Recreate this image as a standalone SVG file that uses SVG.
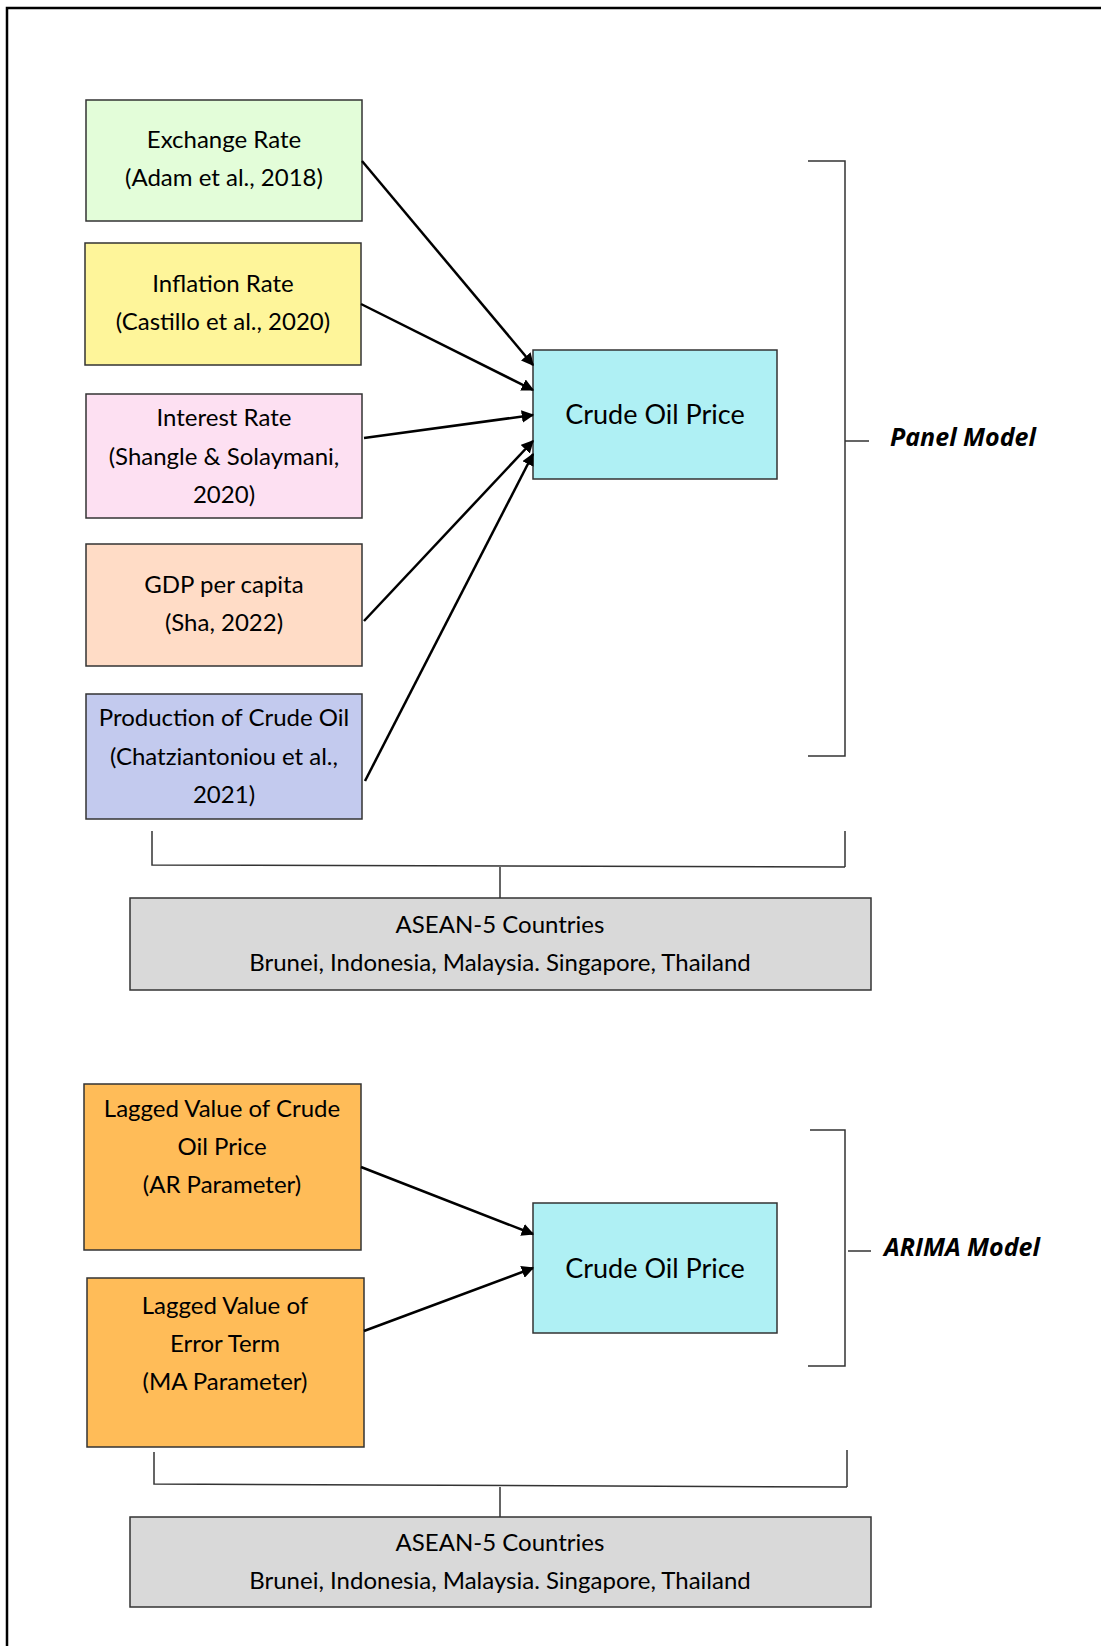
<svg xmlns="http://www.w3.org/2000/svg" width="1101" height="1646" viewBox="0 0 1101 1646">
<style>
.box{stroke:#333;stroke-width:1.5}
.t{font-family:Lato,"Open Sans",sans-serif;font-size:24px;fill:#000;text-anchor:middle;dominant-baseline:central}
.big{font-size:27px}
.lbl{font-family:"Open Sans",sans-serif;font-size:25px;font-weight:bold;font-style:italic;fill:#000;dominant-baseline:central}
.br{fill:none;stroke:#333;stroke-width:1.5}
.ar{fill:none;stroke:#000;stroke-width:2.5;marker-end:url(#ah)}
</style>
<defs>
<marker id="ah" viewBox="0 0 10 10" refX="9" refY="5" markerWidth="5" markerHeight="5" orient="auto" markerUnits="strokeWidth">
<path d="M0,0 L10,5 L0,10 z" fill="#000"/>
</marker>
</defs>
<rect width="1101" height="1646" fill="#fff"/>
<path d="M7,1646 L7,8 L1101,8" fill="none" stroke="#000" stroke-width="2.5"/>

<g id="exchange">
<rect class="box" x="86" y="100" width="276" height="121" fill="#e3fdd9"/>
<text class="t" x="224" y="138">Exchange Rate</text>
<text class="t" x="224" y="176">(Adam et al., 2018)</text>
</g>
<g id="inflation">
<rect class="box" x="85" y="243" width="276" height="122" fill="#fef59a"/>
<text class="t" x="223" y="282">Inflation Rate</text>
<text class="t" x="223" y="320">(Castillo et al., 2020)</text>
</g>
<g id="interest">
<rect class="box" x="86" y="394" width="276" height="124" fill="#fde0f2"/>
<text class="t" x="224" y="416">Interest Rate</text>
<text class="t" x="224" y="455">(Shangle &amp; Solaymani,</text>
<text class="t" x="224" y="493">2020)</text>
</g>
<g id="gdp">
<rect class="box" x="86" y="544" width="276" height="122" fill="#ffdcc6"/>
<text class="t" x="224" y="583">GDP per capita</text>
<text class="t" x="224" y="621">(Sha, 2022)</text>
</g>
<g id="production">
<rect class="box" x="86" y="694" width="276" height="125" fill="#c3caee"/>
<text class="t" x="224" y="716">Production of Crude Oil</text>
<text class="t" x="224" y="755">(Chatziantoniou et al.,</text>
<text class="t" x="224" y="793">2021)</text>
</g>
<g id="crude1">
<rect class="box" x="533" y="350" width="244" height="129" fill="#aff0f4"/>
<text class="t big" x="655" y="413">Crude Oil Price</text>
</g>
<g id="panel-label">
<text class="lbl" x="890" y="436">Panel Model</text>
</g>
<g id="asean1">
<rect class="box" x="130" y="898" width="741" height="92" fill="#d9d9d9"/>
<text class="t" x="500" y="923">ASEAN-5 Countries</text>
<text class="t" x="500" y="961">Brunei, Indonesia, Malaysia. Singapore, Thailand</text>
</g>

<g id="ar">
<rect class="box" x="84" y="1084" width="277" height="166" fill="#ffbc58"/>
<text class="t" x="222" y="1107">Lagged Value of Crude</text>
<text class="t" x="222" y="1145">Oil Price</text>
<text class="t" x="222" y="1183">(AR Parameter)</text>
</g>
<g id="ma">
<rect class="box" x="87" y="1278" width="277" height="169" fill="#ffbc58"/>
<text class="t" x="225" y="1304">Lagged Value of</text>
<text class="t" x="225" y="1342">Error Term</text>
<text class="t" x="225" y="1380">(MA Parameter)</text>
</g>
<g id="crude2">
<rect class="box" x="533" y="1203" width="244" height="130" fill="#aff0f4"/>
<text class="t big" x="655" y="1267">Crude Oil Price</text>
</g>
<g id="arima-label">
<text class="lbl" x="884" y="1246">ARIMA Model</text>
</g>
<g id="asean2">
<rect class="box" x="130" y="1517" width="741" height="90" fill="#d9d9d9"/>
<text class="t" x="500" y="1541">ASEAN-5 Countries</text>
<text class="t" x="500" y="1579">Brunei, Indonesia, Malaysia. Singapore, Thailand</text>
</g>

<g id="connectors">
<line class="ar" x1="362" y1="161" x2="533" y2="365"/>
<line class="ar" x1="361" y1="304" x2="533" y2="390"/>
<line class="ar" x1="364" y1="438" x2="533" y2="415"/>
<line class="ar" x1="364" y1="621" x2="533" y2="441"/>
<line class="ar" x1="365" y1="781" x2="533" y2="454"/>
<line class="ar" x1="361" y1="1167" x2="533" y2="1234"/>
<line class="ar" x1="364" y1="1331" x2="533" y2="1268"/>
<path class="br" d="M808,161 H845 V756 H808 M845,441 H869"/>
<path class="br" d="M152,831 V865 L845,867 M845,831 V867 M500,867 V898"/>
<path class="br" d="M810,1130 H845 V1366 H808 M848,1251 H871"/>
<path class="br" d="M154,1452 V1484 L847,1487 M847,1450 V1487 M500,1487 V1517"/>
</g>
</svg>
